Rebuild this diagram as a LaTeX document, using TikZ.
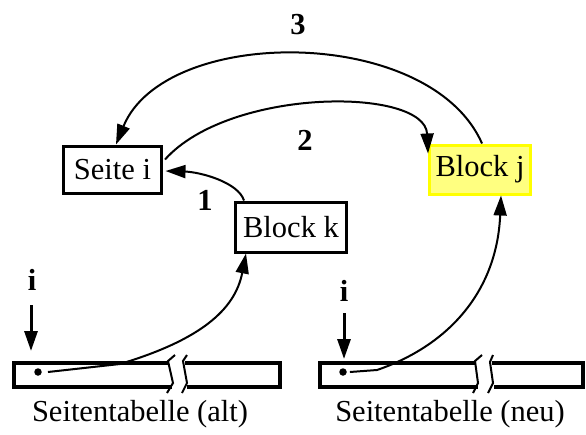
\documentclass[tikz,border=0pt]{standalone}
\usepackage{fontspec}
\setmainfont{Liberation Serif}
\usetikzlibrary{arrows.meta,calc}
\definecolor{jfill}{HTML}{FFFF80}
\definecolor{jdraw}{HTML}{FFFF00}
\begin{document}
\begin{tikzpicture}[x=1pt,y=-1pt,
  every node/.style={font=\fontsize{30.5}{36}\selectfont},
  box/.style={draw,line width=3pt,inner sep=0pt},
  conn/.style={line width=2pt,-{Triangle[length=20pt,width=13pt]}},
  iarr/.style={line width=3pt,-{Triangle[length=20pt,width=13pt]}},
  num/.style={font=\fontsize{30.5}{36}\selectfont\bfseries},
  tab/.style={line width=3.2pt,line join=miter},
  brk/.style={line width=2pt},
  dot/.style={circle,fill,inner sep=0pt,minimum size=7.5pt}]
\useasboundingbox (0,0) rectangle (586,434);

% boxes
\node[box,minimum width=98pt,minimum height=47pt] (si) at (112.5,169.5) {Seite i};
\node[box,draw=jdraw,fill=jfill,minimum width=101pt,minimum height=49pt] (bj) at (480,169.5) {Block j};
\node[box,minimum width=111pt,minimum height=50pt] (bk) at (291,227) {Block k};

% numbers
\node[num] (n3) at (298,25) {3};
\node[num] (n2) at (305,140) {2};
\node[num] (n1) at (205,200) {1};

% tables
\draw[tab] (168,363) -- (14,363) -- (14,387) -- (172,387);
\draw[tab] (185,363) -- (280,363) -- (280,387) -- (187,387);
\draw[brk] (175,355) -- (168,361) -- (173,383) -- (167,393);
\draw[brk] (187,355) -- (183,361) -- (187,383) -- (182,393);

\draw[tab] (475,363) -- (320,363) -- (320,387) -- (478,387);
\draw[tab] (492,363) -- (583,363) -- (583,387) -- (494,387);
\draw[brk] (482,355) -- (475,361) -- (478,383) -- (473,393);
\draw[brk] (493,355) -- (490,362) -- (493,383) -- (488,393);

\node[dot] (dl) at (38,372) {};
\node[dot] (dr) at (343,372) {};

% i labels and arrows
\node[num] (il) at (32,280) {i};
\node[num] (ir) at (344,291) {i};
\coordinate (ils) at (31,305);
\coordinate (ilt) at (31,351);
\coordinate (irs) at (344,313);
\coordinate (irt) at (344,359);
\draw[iarr] (ils) -- (ilt);
\draw[iarr] (irs) -- (irt);

% captions
\node (tl) at (140,414) {Seitentabelle (alt)};
\node (tr) at (450,414) {Seitentabelle (neu)};

% connectors
\draw[conn] ([xshift=2pt]bj.north) .. controls (430,25) and (165,25) .. ([xshift=3.5pt]si.north);
\draw[conn] ([xshift=2pt,yshift=10pt]si.east) .. controls (230,87) and (425,87) .. ([yshift=-10pt]bj.north west);
\draw[conn] ([xshift=10pt]bk.north west) .. controls (238,182) and (200,172) .. ([xshift=2.5pt,yshift=-1.5pt]si.east);
\draw[conn] ([xshift=6pt]dl.east) -- (120,364) .. controls (200,340) and (235,310) .. ([xshift=12pt]bk.south west);
\draw[conn] ([xshift=3pt]dr.east) -- (377,370) .. controls (450,345) and (497,290) .. ([xshift=21pt]bj.south);
\end{tikzpicture}
\end{document}
